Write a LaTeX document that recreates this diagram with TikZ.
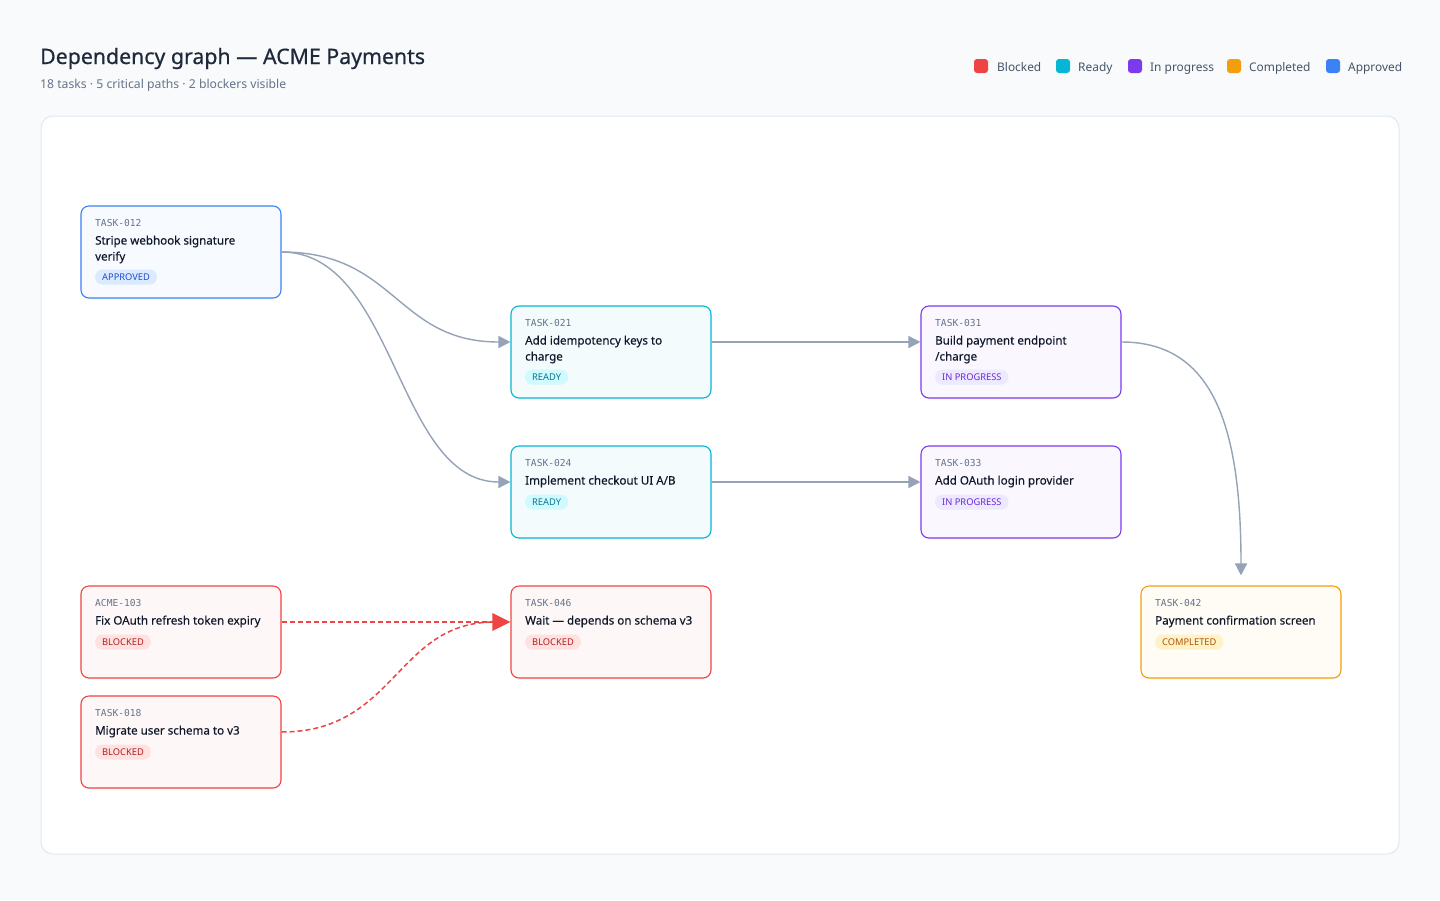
\documentclass[tikz,border=0pt]{standalone}
\usepackage{fontspec}
\setmainfont{Noto Sans}
\newfontfamily\idfont{DejaVu Sans Mono}
\newfontfamily\titlefont[FakeBold=0.6]{Noto Sans}
\newfontfamily\cardfont[FakeBold=0.25]{Noto Sans}
\usetikzlibrary{arrows.meta,shadows}
\definecolor{pagebg}{HTML}{F8FAFC}
\definecolor{panelborder}{HTML}{E2E8F0}
\definecolor{ink}{HTML}{1E293B}
\definecolor{titleink}{HTML}{0F172A}
\definecolor{muted}{HTML}{64748B}
\definecolor{legendink}{HTML}{475569}
\definecolor{edgegray}{HTML}{94A3B8}
\definecolor{blockedborder}{HTML}{EF4444}
\definecolor{blockedfill}{HTML}{FEF7F7}
\definecolor{blockedbadge}{HTML}{FEE2E2}
\definecolor{blockedtext}{HTML}{B91C1C}
\definecolor{readyborder}{HTML}{06B6D4}
\definecolor{readyfill}{HTML}{F3FBFD}
\definecolor{readybadge}{HTML}{CFFAFE}
\definecolor{readytext}{HTML}{0E7490}
\definecolor{progressborder}{HTML}{7C3AED}
\definecolor{progressfill}{HTML}{FAF7FF}
\definecolor{progressbadge}{HTML}{EDE9FE}
\definecolor{progresstext}{HTML}{6D28D9}
\definecolor{completedborder}{HTML}{F59E0B}
\definecolor{completedfill}{HTML}{FFFBF5}
\definecolor{completedbadge}{HTML}{FEF3C7}
\definecolor{completedtext}{HTML}{B45309}
\definecolor{approvedborder}{HTML}{3B82F6}
\definecolor{approvedfill}{HTML}{F7FAFF}
\definecolor{approvedbadge}{HTML}{DBEAFE}
\definecolor{approvedtext}{HTML}{1D4ED8}
\tikzset{
  card/.style={draw=#1border, fill=#1fill, line width=1.1pt, rounded corners=8pt,
    minimum width=200pt, minimum height=92pt, inner sep=0pt,
    drop shadow={opacity=0.05, shadow xshift=0pt, shadow yshift=-2pt}},
  idtext/.style={font=\idfont\fontsize{9.6}{11}\selectfont, text=muted, inner sep=0pt},
  titletext/.style={font=\cardfont\fontsize{11.6}{16}\selectfont, text=titleink, inner sep=0pt},
  badge/.style={fill=#1badge, text=#1text, rounded corners=7pt, minimum height=15pt,
    inner xsep=7pt, inner ysep=0pt, text height=6.6pt, text depth=0pt,
    font=\fontsize{9.3}{10}\selectfont},
  legendsq/.style={fill=#1border, rounded corners=3pt, minimum size=14pt, inner sep=0pt},
  legendtext/.style={font=\fontsize{11.9}{14}\selectfont, text=legendink, inner sep=0pt, anchor=base west},
  depedge/.style={draw=edgegray, line width=1.4pt, -{Triangle[length=12pt,width=12pt]}},
  blockedge/.style={draw=blockedborder, line width=1.5pt, dash pattern=on 5pt off 3pt},
}
% #1 name, #2 x, #3 y, #4 status, #5 id, #6 line1, #7 line2, #8 badge text, #9 badge y
\newcommand\tasknode[9]{%
  \node[card=#4] (#1) at (#2+100,#3+46) {};
  \node[idtext, anchor=base west] (#1-id) at (#2+14,#3+20) {#5};
  \node[titletext, anchor=base west] (#1-l1) at (#2+14,#3+38.5) {#6};
  \if\relax\detokenize{#7}\relax\else
    \node[titletext, anchor=base west] (#1-l2) at (#2+14,#3+54.5) {#7};
  \fi
  \node[badge=#4, anchor=west] (#1-b) at (#2+14,#3+#9) {#8};
}
\begin{document}
\begin{tikzpicture}[x=1pt,y=-1pt]
  \fill[pagebg] (0,0) rectangle (1440,900);
  \useasboundingbox (0,0) rectangle (1440,900);
  % header
  \node[anchor=base west, inner sep=0pt, text=ink, font=\titlefont\fontsize{21.3}{26}\selectfont] (title) at (40,64) {Dependency graph — ACME Payments};
  \node[anchor=base west, inner sep=0pt, text=muted, font=\fontsize{12.2}{15}\selectfont] (subtitle) at (40,88) {18 tasks · 5 critical paths · 2 blockers visible};
  % legend
  \node[legendsq=blocked] (lg1) at (981,66) {};
  \node[legendtext] (lg1t) at (997,71) {Blocked};
  \node[legendsq=ready] (lg2) at (1063,66) {};
  \node[legendtext] (lg2t) at (1078,71) {Ready};
  \node[legendsq=progress] (lg3) at (1135,66) {};
  \node[legendtext] (lg3t) at (1150,71) {In progress};
  \node[legendsq=completed] (lg4) at (1234,66) {};
  \node[legendtext] (lg4t) at (1249,71) {Completed};
  \node[legendsq=approved] (lg5) at (1333,66) {};
  \node[legendtext] (lg5t) at (1348,71) {Approved};
  % panel
  \draw[panelborder, fill=white, line width=1pt, rounded corners=12pt] (41,116) rectangle (1399,854);
  % tasks
  \tasknode{t012}{81}{206}{approved}{TASK-012}{Stripe webhook signature}{verify}{APPROVED}{71}
  \tasknode{t021}{511}{306}{ready}{TASK-021}{Add idempotency keys to}{charge}{READY}{71}
  \tasknode{t031}{921}{306}{progress}{TASK-031}{Build payment endpoint}{/charge}{IN PROGRESS}{71}
  \tasknode{t024}{511}{446}{ready}{TASK-024}{Implement checkout UI A/B}{}{READY}{56}
  \tasknode{t033}{921}{446}{progress}{TASK-033}{Add OAuth login provider}{}{IN PROGRESS}{56}
  \tasknode{a103}{81}{586}{blocked}{ACME-103}{Fix OAuth refresh token expiry}{}{BLOCKED}{56}
  \tasknode{t018}{81}{696}{blocked}{TASK-018}{Migrate user schema to v3}{}{BLOCKED}{56}
  \tasknode{t046}{511}{586}{blocked}{TASK-046}{Wait — depends on schema v3}{}{BLOCKED}{56}
  \tasknode{t042}{1141}{586}{completed}{TASK-042}{Payment confirmation screen}{}{COMPLETED}{56}
  % edges
  \coordinate (t042in) at ([yshift=10pt]t042.north);
  \draw[depedge] (t012.east) .. controls (396,252) and (396,342) .. ([yshift=10pt]t021.west);
  \draw[depedge] (t012.east) .. controls (396,252) and (396,482) .. ([yshift=10pt]t024.west);
  \draw[depedge] ([yshift=10pt]t021.east) -- ([yshift=10pt]t031.west);
  \draw[depedge] ([yshift=10pt]t024.east) -- ([yshift=10pt]t033.west);
  \draw[depedge] ([yshift=10pt]t031.east) .. controls (1215,342) and (1241,430) .. (t042in);
  \draw[blockedge] ([yshift=10pt]a103.east) -- ([yshift=10pt,xshift=-16pt]t046.west);
  \draw[blockedge] ([yshift=10pt]t018.east) .. controls (396,732) and (396,622) .. ([yshift=10pt,xshift=-16pt]t046.west);
  \fill[blockedborder] ([yshift=10pt]t046.west) -- ++(-18,-9) -- ++(0,18) -- cycle;
\end{tikzpicture}
\end{document}
